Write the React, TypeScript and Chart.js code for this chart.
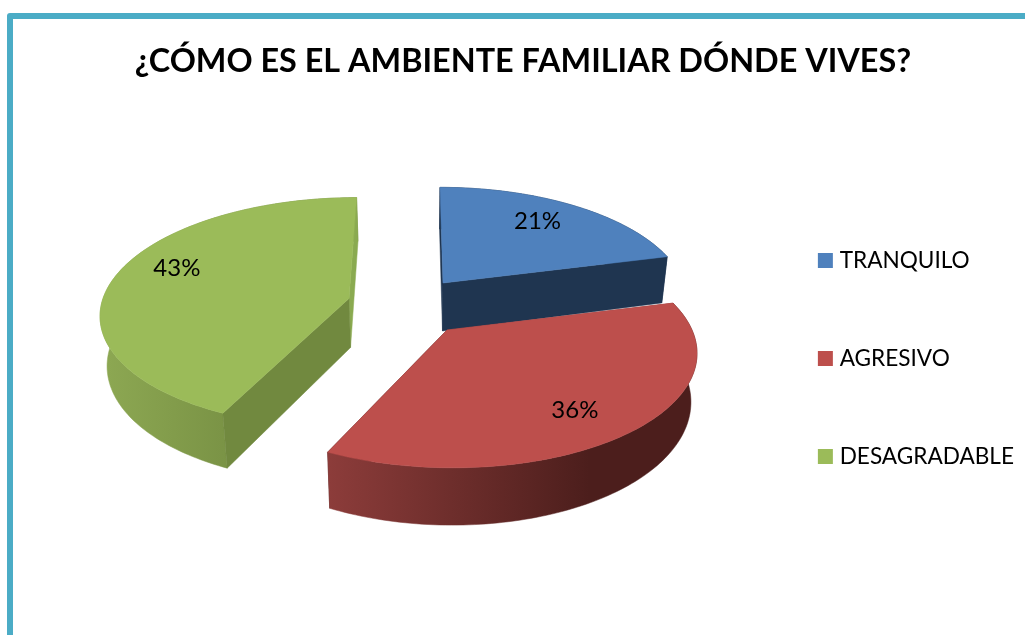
import React, { useEffect, useRef } from "react";
import { Chart, registerables } from "chart.js";

Chart.register(...registerables);

const categories = ["TRANQUILO", "AGRESIVO", "DESAGRADABLE"];
const percentages = [21, 36, 43];
const topColors = ["#4f81bd", "#bd4f4c", "#9bbb59"];
const chartTitle = "¿CÓMO ES EL AMBIENTE FAMILIAR DÓNDE VIVES?";

// 3D look of each wedge: screen anchor, radii, perspective, wall colours (left, right) and cut-face colours
const VANISH_X = 420;
const DEPTH_SHRINK = 0.022;
const wedgeLooks = [
  { ax: 443, ay: 283, rx: 241, ry: 110, p: 0.15, depth: 48, wall: ["#1f3550", "#1f3550"], cutNear: "#1f3550", cutFar: "#1f3550", cutsOverWall: true, labelDx: -9, labelDy: 0 },
  { ax: 447, ay: 330, rx: 245, ry: 113, p: 0.18, depth: 47, wall: ["#8c3c3a", "#4c1e1c"], cutNear: "#4c1e1c", cutFar: "#8c3c3a", cutsOverWall: false, labelDx: -12, labelDy: 4 },
  { ax: 349, ay: 298.5, rx: 246, ry: 113, p: 0.12, depth: 49, wall: ["#8ca752", "#71893f"], cutNear: "#71893f", cutFar: "#8aaa50", cutsOverWall: true, labelDx: 10, labelDy: -11 },
];
const drawOrder = [2, 0, 1];
const LABEL_RADIUS = 0.78;

const project = (look: any, X: number, Y: number, h: number) => {
  const w = 1 + look.p * Y;
  const x = VANISH_X + (look.ax - VANISH_X + look.rx * X) / w;
  return {
    x: VANISH_X + (x - VANISH_X) * (1 - DEPTH_SHRINK * h),
    y: look.ay + (-look.ry * Y + h * look.depth) / w,
  };
};

const rimPoints = (look: any, start: number, end: number, h: number) => {
  const pts = [];
  const n = Math.max(8, Math.ceil((end - start) / 0.02));
  for (let i = 0; i <= n; i++) {
    const a = start + ((end - start) * i) / n;
    pts.push(project(look, Math.cos(a), -Math.sin(a), h));
  }
  return pts;
};

const fillPoly = (ctx: CanvasRenderingContext2D, pts: any[], fill: any) => {
  ctx.beginPath();
  pts.forEach((p, i) => (i ? ctx.lineTo(p.x, p.y) : ctx.moveTo(p.x, p.y)));
  ctx.closePath();
  ctx.fillStyle = fill;
  ctx.strokeStyle = fill;
  ctx.lineWidth = 0.5;
  ctx.fill();
  ctx.stroke();
};

const pie3d = {
  id: "pie3d",
  beforeDatasetDraw(chart: any) {
    const ctx: CanvasRenderingContext2D = chart.ctx;
    const arcs = chart.getDatasetMeta(0).data;
    ctx.save();
    for (const i of drawOrder) {
      const look = wedgeLooks[i];
      const { startAngle, endAngle } = arcs[i].getProps(["startAngle", "endAngle"], true);
      const apexTop = project(look, 0, 0, 0);
      const apexBottom = project(look, 0, 0, 1);
      const topRim = rimPoints(look, startAngle, endAngle, 0);
      const botRim = rimPoints(look, startAngle, endAngle, 1);
      const last = topRim.length - 1;
      const drawCuts = () => {
        const sFar = topRim[0].y < topRim[last].y;
        const [farI, nearI] = sFar ? [0, last] : [last, 0];
        fillPoly(ctx, [apexTop, topRim[farI], botRim[farI], apexBottom], look.cutFar);
        fillPoly(ctx, [apexTop, topRim[nearI], botRim[nearI], apexBottom], look.cutNear);
      };
      const drawWall = () => {
        const xs = botRim.map((p: any) => p.x);
        const g = ctx.createLinearGradient(Math.min(...xs), 0, Math.max(...xs), 0);
        g.addColorStop(0, look.wall[0]);
        g.addColorStop(0.72, look.wall[1]);
        g.addColorStop(1, look.wall[1]);
        fillPoly(ctx, [...topRim, ...botRim.slice().reverse()], g);
      };
      if (look.cutsOverWall) {
        drawWall();
        drawCuts();
      } else {
        drawCuts();
        drawWall();
      }
      fillPoly(ctx, [apexTop, ...topRim], topColors[i]);
    }
    ctx.fillStyle = "#000";
    ctx.font = "24px Lato";
    ctx.textAlign = "center";
    ctx.textBaseline = "middle";
    for (const i of drawOrder) {
      const look = wedgeLooks[i];
      const { startAngle, endAngle } = arcs[i].getProps(["startAngle", "endAngle"], true);
      const mid = (startAngle + endAngle) / 2;
      const p = project(look, LABEL_RADIUS * Math.cos(mid), -LABEL_RADIUS * Math.sin(mid), 0);
      ctx.fillText(`${percentages[i]}%`, p.x + look.labelDx, p.y + look.labelDy);
    }
    ctx.restore();
    return false;
  },
};

export default function App() {
  const ref = useRef<HTMLCanvasElement>(null);
  useEffect(() => {
    const chart = new Chart(ref.current!, {
      type: "pie",
      data: {
        labels: categories,
        datasets: [{ data: percentages, backgroundColor: topColors, borderWidth: 0 }],
      },
      options: {
        animation: false,
        responsive: false,
        layout: { padding: { left: 22, right: 1, top: 42, bottom: -40 } },
        plugins: {
          title: {
            display: true,
            text: chartTitle,
            color: "#000",
            font: { family: "Lato", size: 32.4, weight: "bold" },
            padding: { top: 0, bottom: 40 },
          },
          legend: {
            position: "right",
            labels: {
              color: "#000",
              usePointStyle: true,
              pointStyle: "rect",
              boxWidth: 6,
              boxHeight: 15,
              padding: 75.4,
              font: { family: "Lato", size: 22.6 },
            },
          },
          tooltip: { enabled: false },
        },
      },
      plugins: [pie3d],
    });
    return () => chart.destroy();
  }, []);
  return (
    <div style={{ position: "fixed", left: 0, top: 0, width: 1025, height: 635, overflow: "hidden", background: "#fff" }}>
      <div style={{ position: "absolute", left: 7, top: 13, width: 1100, height: 700, border: "6px solid #4bacc6", boxSizing: "border-box", borderRadius: 3 }} />
      <canvas ref={ref} width={1025} height={635} style={{ position: "absolute", left: 0, top: 0 }} />
    </div>
  );
}
